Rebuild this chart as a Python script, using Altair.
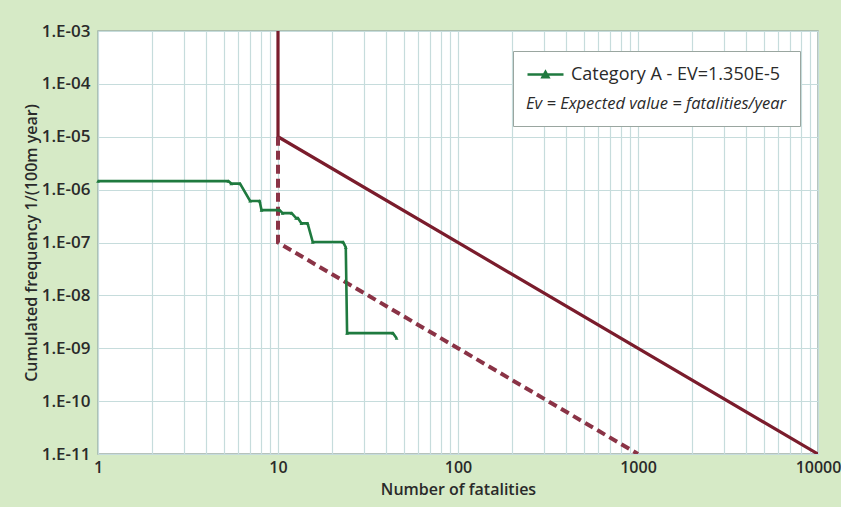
import altair as alt
import pandas as pd

# Category A F-N curve (step curve)
green_x = [1, 5.3, 5.5, 6.15, 7.0, 7.9, 8.1, 10.2, 10.6, 11.9, 12.6, 12.9, 13.5, 14.6, 15.6, 23.0, 23.8, 24.2, 43.5, 45.6]
green_y = [1.45e-6, 1.45e-6, 1.3e-6, 1.3e-6, 6.1e-7, 6.1e-7, 4.1e-7, 4.1e-7, 3.6e-7, 3.6e-7, 2.9e-7, 2.9e-7,
           2.3e-7, 2.3e-7, 1.02e-7, 1.02e-7, 8.1e-8, 1.93e-9, 1.93e-9, 1.55e-9]
series_name = "Category A - EV=1.350E-5"
note_text = "Ev = Expected value = fatalities/year"

# Upper limit (solid) and lower limit (dashed)
upper_x = [10, 10, 10000]
upper_y = [1e-3, 1e-5, 1e-11]
lower_x = [10, 10, 1000]
lower_y = [1e-5, 1e-7, 1e-11]

x_ticks = [m * 10 ** e for e in range(4) for m in range(1, 10)] + [10000]
y_ticks = [1e-3, 1e-4, 1e-5, 1e-6, 1e-7, 1e-8, 1e-9, 1e-10, 1e-11]

df_green = pd.DataFrame({"x": green_x, "y": green_y, "i": range(len(green_x)), "s": series_name})
df_up = pd.DataFrame({"x": upper_x, "y": upper_y, "i": range(len(upper_x))})
df_lo = pd.DataFrame({"x": lower_x, "y": lower_y, "i": range(len(lower_x))})

FONT = "Open Sans"
TXT = "#2a2a2a"
GREEN = "#1f7a3f"

xscale = alt.Scale(type="log", domain=[1, 10000], nice=False)
yscale = alt.Scale(type="log", domain=[1e-11, 1e-3], nice=False)

xaxis = alt.Axis(
    values=x_ticks,
    labelExpr="(datum.value==1||datum.value==10||datum.value==100||datum.value==1000||datum.value==10000) ? toString(datum.value) : ''",
    labelOverlap=False, labelFlush=False, ticks=False, domain=False,
    labelPadding=5, labelFontSize=16, title="Number of fatalities", titlePadding=6,
)
yaxis = alt.Axis(
    values=y_ticks,
    labelExpr="'1.E-' + (round(-log(datum.value)/LN10) < 10 ? '0' : '') + round(-log(datum.value)/LN10)",
    labelOverlap=False, ticks=False, domain=False, labelPadding=8, labelFontSize=17,
    title="Cumulated frequency 1/(100m year)", titlePadding=2,
)

upper = alt.Chart(df_up).mark_line(color="#7a1c2c", strokeWidth=3.2, clip=True).encode(
    x=alt.X("x:Q", scale=xscale, axis=xaxis),
    y=alt.Y("y:Q", scale=yscale, axis=yaxis),
    order="i:O",
)
lower = alt.Chart(df_lo).mark_line(color="#8a3346", strokeWidth=4, strokeDash=[9, 5], clip=True).encode(
    x=alt.X("x:Q", scale=xscale),
    y=alt.Y("y:Q", scale=yscale),
    order="i:O",
)
green = alt.Chart(df_green).mark_line(
    strokeWidth=2.6,
    point=alt.OverlayMarkDef(shape="triangle-up", size=14, filled=True, color=GREEN),
).encode(
    x=alt.X("x:Q", scale=xscale),
    y=alt.Y("y:Q", scale=yscale),
    order="i:O",
    color=alt.Color(
        "s:N",
        scale=alt.Scale(domain=[series_name], range=[GREEN]),
        legend=alt.Legend(
            title=note_text, titleOrient="bottom", titleAnchor="start",
            titleFontStyle="italic", titleFontWeight="normal", titleFontSize=16.5,
            titleFont=FONT, titleColor=TXT, titlePadding=12, titleLimit=400,
            orient="none", legendX=415, legendY=20,
            fillColor="white", strokeColor="#9aa6a0", padding=13,
            symbolType="M-1,0L3,0M0.67,0.3L1,-0.3L1.33,0.3Z",
            symbolSize=324, symbolStrokeWidth=2.5, symbolFillColor=GREEN,
            symbolStrokeColor=GREEN,
            labelFont=FONT, labelFontSize=18, labelColor=TXT, labelOffset=24, labelLimit=400,
        ),
    ),
)

chart = alt.layer(upper, lower, green).properties(
    width=720, height=423,
    autosize=alt.AutoSizeParams(type="none"),
    padding={"left": 98, "top": 31, "right": 23, "bottom": 53},
    background="#d6eac6",
).configure_view(
    fill="white", stroke="#9fb0a6", strokeWidth=1.5,
).configure_axis(
    gridColor="#c6dcdc", gridWidth=1.2, gridOpacity=1,
    labelFont=FONT, labelFontWeight=600, labelColor=TXT,
    titleFont=FONT, titleFontSize=16, titleFontWeight=600, titleColor=TXT,
)

chart.save("out.html", embed_options={"renderer": "svg", "actions": False})
